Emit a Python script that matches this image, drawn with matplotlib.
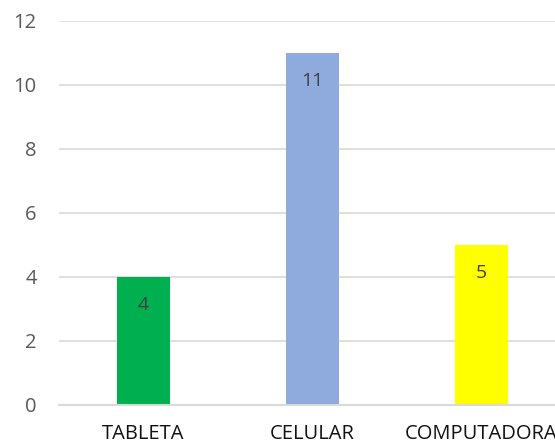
import matplotlib
matplotlib.use("Agg")
import matplotlib.pyplot as plt

categories = ["TABLETA", "CELULAR", "COMPUTADORA"]
values = [4, 11, 5]
colors = ["#00B050", "#8FAADC", "#FFFF00"]
yticks = [0, 2, 4, 6, 8, 10, 12]

fig = plt.figure(figsize=(5.55, 4.47), dpi=100)
ax = fig.add_axes([59/555, 42/447, 507/555, 384.5/447])
ax.set_xlim(-0.5, 2.5)
ax.set_ylim(0, 12)
x = list(range(len(categories)))
ax.bar(x, values, width=0.314, color=colors, zorder=3)
for xi, v in zip(x, values):
    ax.annotate(str(v), (xi, v), xytext=(0, -28), textcoords="offset pixels",
                ha="center", va="center", fontsize=14, color="#404040",
                family="Open Sans", zorder=4)

ax.set_yticks(yticks)
ax.set_yticklabels([str(t) for t in yticks], fontsize=14.5, color="#595959", family="Open Sans")
ax.set_xticks(x)
ax.set_xticklabels(categories, fontsize=14.5, color="#111111", family="Open Sans")
ax.tick_params(axis="both", length=0)
ax.tick_params(axis="y", pad=16)
ax.tick_params(axis="x", pad=14)
ax.grid(axis="y", color="#D9D9D9", linewidth=1.2, zorder=0)
for s in ["top", "right", "left"]:
    ax.spines[s].set_visible(False)
ax.spines["bottom"].set_color("#D9D9D9")
ax.spines["bottom"].set_linewidth(1.5)
ax.spines["bottom"].set_zorder(5)
fig.savefig("out.png", dpi=100)
